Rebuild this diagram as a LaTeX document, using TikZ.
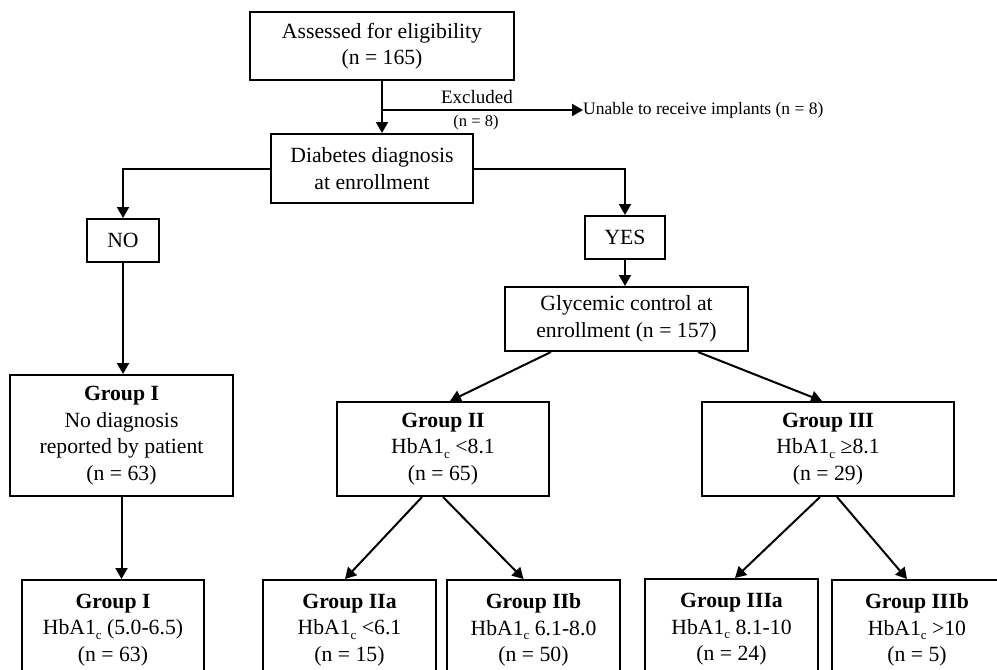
\documentclass[tikz,border=0pt]{standalone}
\usepackage{fontspec}
\setmainfont{Liberation Serif}
\usetikzlibrary{arrows.meta}
\newcommand{\hbsub}{HbA1\raisebox{-0.45ex}{\fontsize{13}{13}\selectfont c}}
\begin{document}
\begin{tikzpicture}[x=1pt,y=-1pt,
  box/.style={draw,line width=2pt,inner sep=0pt,align=center,
    font=\fontsize{21.7}{26.5}\selectfont},
  arr/.style={line width=2pt,-{Triangle[length=11pt,width=12pt]}}]
\useasboundingbox (0,0) rectangle (997,670);
\node[box,minimum width=264pt,minimum height=68pt] (top) at (382,46) {Assessed for eligibility\\(n = 165)};
\node[box,minimum width=202pt,minimum height=69pt] (diab) at (372,168.5) {Diabetes diagnosis\\at enrollment};
\node[box,minimum width=72pt,minimum height=43pt] (no) at (123,240.5) {NO};
\node[box,minimum width=80pt,minimum height=43pt] (yes) at (625,237.5) {YES};
\node[box,minimum width=243pt,minimum height=64pt] (gly) at (626.5,319) {Glycemic control at\\enrollment (n = 157)};
\node[box,minimum width=223pt,minimum height=121pt] (g1) at (121.5,435.5) {\textbf{Group I}\\No diagnosis\\reported by patient\\(n = 63)};
\node[box,minimum width=212pt,minimum height=94pt] (g2) at (443,449) {\textbf{Group II}\\\hbsub{} <8.1\\(n = 65)};
\node[box,minimum width=252pt,minimum height=94pt] (g3) at (828,449) {\textbf{Group III}\\\hbsub{} ≥8.1\\(n = 29)};
\node[box,minimum width=182pt,minimum height=100pt] (g1b) at (113,630) {\textbf{Group I}\\\hbsub{} (5.0-6.5)\\(n = 63)};
\node[box,minimum width=173pt,minimum height=100pt] (g2a) at (349.5,630) {\textbf{Group IIa}\\\hbsub{} <6.1\\(n = 15)};
\node[box,minimum width=173pt,minimum height=100pt] (g2b) at (533.5,630) {\textbf{Group IIb}\\\hbsub{} 6.1-8.0\\(n = 50)};
\node[box,minimum width=173pt,minimum height=101pt] (g3a) at (731.5,629.5) {\textbf{Group IIIa}\\\hbsub{} 8.1-10\\(n = 24)};
\node[box,minimum width=170pt,minimum height=100pt] (g3b) at (917,630) {\textbf{Group IIIb}\\\hbsub{} >10\\(n = 5)};
% exclusion
\coordinate (exc) at (382,110);
\node[anchor=west,inner sep=0pt,font=\fontsize{17.5}{20}\selectfont] (unable) at (583,110) {Unable to receive implants (n = 8)};
\node[inner sep=0pt,font=\fontsize{19}{22}\selectfont] (exlab) at (477,97) {Excluded};
\node[inner sep=0pt,font=\fontsize{16.5}{20}\selectfont] (exn) at (476,123) {(n = 8)};
% connectors
\draw[arr] (top.south) -- (top.south |- diab.north);
\draw[arr] (exc) -- (unable.west);
\draw[arr] (diab.west) -| (no.north);
\draw[arr] (diab.east) -| (yes.north);
\draw[arr] (yes.south) -- (yes.south |- gly.north);
\draw[arr] (no.south) -- (no.south |- g1.north);
\draw[arr] ([xshift=47pt]gly.south west) -- ([xshift=7pt]g2.north);
\draw[arr] ([xshift=-51pt]gly.south east) -- ([xshift=-6pt]g3.north);
\draw[arr] (g1.south) -- (g1.south |- g1b.north);
\draw[arr] ([xshift=-21pt]g2.south) -- ([xshift=-4.5pt]g2a.north);
\draw[arr] (g2.south) -- ([xshift=-10pt]g2b.north);
\draw[arr] ([xshift=-8pt]g3.south) -- ([xshift=3.5pt]g3a.north);
\draw[arr] ([xshift=9pt]g3.south) -- ([xshift=-10pt]g3b.north);
\end{tikzpicture}
\end{document}
